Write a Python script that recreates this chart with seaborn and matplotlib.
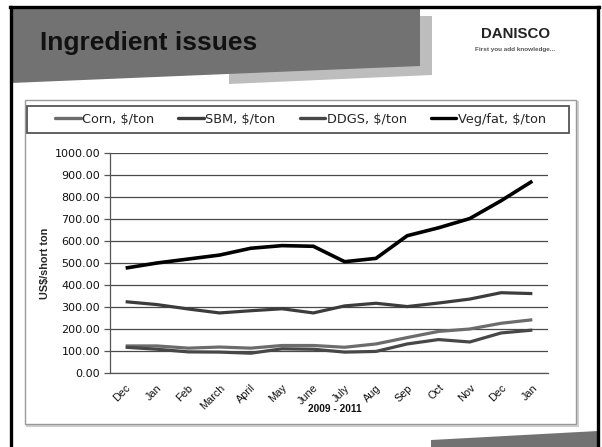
import numpy as np
import pandas as pd
import matplotlib
matplotlib.use("Agg")
import matplotlib.pyplot as plt
from matplotlib.patches import Polygon, Rectangle
from matplotlib.lines import Line2D
import seaborn as sns

# ---------------- data ----------------
months = ["Dec", "Jan", "Feb", "March", "April", "May", "June", "July",
          "Aug", "Sep", "Oct", "Nov", "Dec", "Jan"]
corn = [123, 123, 113, 118, 113, 125, 125, 117, 132, 161, 189, 200, 226, 242]
sbm = [324, 311, 291, 273, 283, 292, 273, 305, 317, 302, 318, 336, 365, 361]
ddgs = [117, 108, 96, 95, 90, 110, 108, 95, 98, 132, 152, 141, 182, 195]
vegfat = [477, 500, 518, 536, 567, 579, 576, 506, 521, 624, 660, 702, 783, 872]
series_names = ["Corn, $/ton", "SBM, $/ton", "DDGS, $/ton", "Veg/fat, $/ton"]
y_ticks = [0, 100, 200, 300, 400, 500, 600, 700, 800, 900, 1000]
title_text = "Ingredient issues"
y_label = "US$/short ton"
x_label = "2009 - 2011"

rows = []
for name, vals in zip(series_names, [corn, sbm, ddgs, vegfat]):
    for i, v in enumerate(vals):
        rows.append({"pos": i, "value": v, "series": name})
df = pd.DataFrame(rows)

# ---------------- figure ----------------
sns.set_theme(style="white")
plt.rcParams["font.family"] = ["Liberation Sans", "DejaVu Sans"]
WIDE = ["DejaVu Sans"]

W, H = 602, 447
fig = plt.figure(figsize=(W / 100, H / 100), dpi=100)
fig.patch.set_facecolor("white")

def fx(x):
    return x / W

def fy(y):
    return 1 - y / H

def poly(pts, color, z=0.5):
    p = Polygon([(fx(x), fy(y)) for x, y in pts], closed=True,
                transform=fig.transFigure, facecolor=color, edgecolor="none",
                zorder=z)
    fig.patches.append(p)

# slide decoration
poly([(229, 84), (432, 75), (432, 16), (229, 16)], "#bdbdbd", 0.3)
poly([(11, 83), (420, 66), (420, 7), (11, 7)], "#727272", 0.4)
poly([(431, 440), (598, 431), (598, 447), (431, 447)], "#727272", 0.4)
for (x0, y0, x1, y1) in [(10, 7, 599, 7), (11, 7, 11, 447), (598, 7, 598, 447)]:
    fig.add_artist(Line2D([fx(x0), fx(x1)], [fy(y0), fy(y1)],
                          transform=fig.transFigure, color="black", lw=2.4,
                          solid_capstyle="projecting", zorder=0.6))

fig.text(fx(40), fy(43), title_text, fontsize=19, fontweight="bold",
         color="#111111", ha="left", va="center")
fig.text(fx(515), fy(34), "DANISCO", fontsize=10.8, fontweight="bold",
         color="#222222", ha="center", va="center")
fig.text(fx(515), fy(50), "First you add knowledge...", fontsize=4.6,
         fontweight="bold", color="#555555", ha="center", va="center")

# chart box (shadow + frame)
fig.patches.append(Rectangle((fx(27), fy(426)), fx(551), 324 / H,
                             transform=fig.transFigure, facecolor="none",
                             edgecolor="#d0d0d0", lw=1.5, zorder=0.2))
fig.patches.append(Rectangle((fx(25), fy(424)), fx(551), 324 / H,
                             transform=fig.transFigure, facecolor="white",
                             edgecolor="#9a9a9a", lw=1.0, zorder=0.25))
# legend frame
fig.patches.append(Rectangle((fx(27), fy(133)), fx(542), 27 / H,
                             transform=fig.transFigure, facecolor="none",
                             edgecolor="#555555", lw=1.3, zorder=0.7))

# axes
ax = fig.add_axes([fx(110), fy(373), fx(548) - fx(110), fy(153) - fy(373)])
ax.set_facecolor("none")
ax.set_zorder(2)

palette = {"Corn, $/ton": "#6c6c6c", "SBM, $/ton": "#3c3c3c",
           "DDGS, $/ton": "#474747", "Veg/fat, $/ton": "#000000"}
sns.lineplot(data=df, x="pos", y="value", hue="series", palette=palette,
             linewidth=2.3, ax=ax, legend=True, sort=False)
for ln in ax.lines:
    ln.set_solid_capstyle("butt")
    if ln.get_label() == "Veg/fat, $/ton" or ln.get_color() in ("#000000", "black"):
        ln.set_linewidth(2.6)

ax.set_xlim(-0.5, len(months) - 0.5)
ax.set_ylim(0, 1000)
ax.set_yticks(y_ticks)
ax.set_yticklabels([f"{v:.2f}" for v in y_ticks], fontsize=8, color="#111111",
                   family=WIDE)
ax.set_xticks(np.arange(len(months)))
ax.set_xticklabels(months, rotation=45, ha="right", rotation_mode="anchor",
                   fontsize=7.8, color="#111111")
ax.set_xticks(np.arange(len(months) + 1) - 0.5, minor=True)
ax.tick_params(axis="x", which="major", length=0, pad=7)
ax.tick_params(axis="x", which="minor", length=4, width=0.9, color="#555555",
               direction="out")
ax.tick_params(axis="y", length=4, width=0.9, color="#555555", direction="out",
               pad=3, left=True)
ax.grid(axis="y", color="#4a4a4a", lw=0.9)
ax.grid(axis="x", visible=False)
for s in ["top", "right"]:
    ax.spines[s].set_visible(False)
for s in ["left", "bottom"]:
    ax.spines[s].set_color("#555555")
    ax.spines[s].set_linewidth(0.9)

ax.set_ylabel(y_label, fontsize=7.8, fontweight="bold", labelpad=3)
ax.set_xlabel("")
fig.text(fx(335), fy(409), x_label, fontsize=7.3, fontweight="bold",
         ha="center", va="center", color="#111111")

sns.move_legend(ax, "center", bbox_to_anchor=(fx(300.5), fy(119.5)),
                bbox_transform=fig.transFigure, ncol=4,
                frameon=False, title=None,
                prop={"family": WIDE, "size": 9.3},
                handlelength=2.0, handletextpad=0.08, columnspacing=1.86,
                borderpad=0.2, borderaxespad=0)
leg = ax.get_legend()
for h in leg.get_lines():
    h.set_linewidth(2.4)

fig.savefig("out.png", dpi=100)
